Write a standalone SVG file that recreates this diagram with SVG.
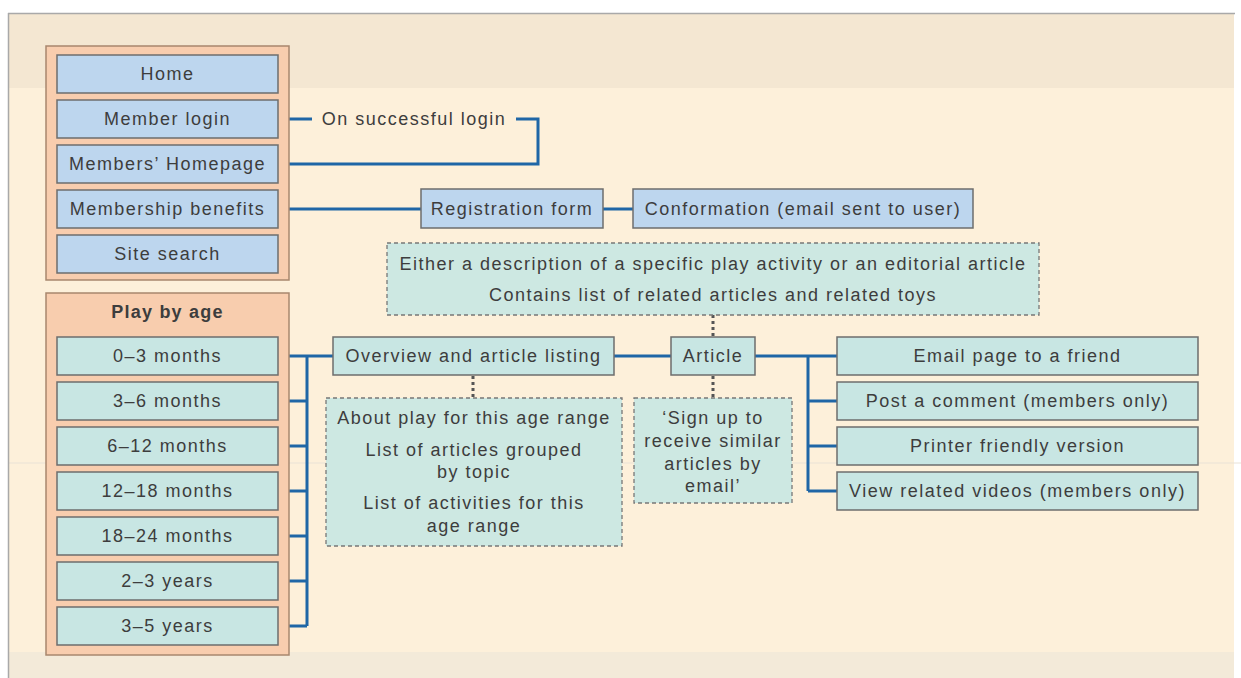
<svg xmlns="http://www.w3.org/2000/svg" width="1241" height="678" viewBox="0 0 1241 678">
  <style>
    text { font-family: "Liberation Sans", Arial, Helvetica, sans-serif; font-size: 18px; fill: #3d3d3d; letter-spacing: 1.5px; text-anchor: middle; dominant-baseline: central; }
    .bold { font-weight: bold; letter-spacing: 1.2px; font-size: 18px; }
    .group { fill: #f8cdae; stroke: #a8876e; stroke-width: 1.5; }
    .blue { fill: #bdd6ee; stroke: #6d6d6d; stroke-width: 1.5; }
    .teal { fill: #c8e6e3; stroke: #6d6d6d; stroke-width: 1.5; }
    .note { fill: #cde8e2; stroke: #777; stroke-width: 1.3; stroke-dasharray: 4 3; }
    .link { fill: none; stroke: #1f66a6; stroke-width: 3; }
    .dots { fill: none; stroke: #555; stroke-width: 3; stroke-dasharray: 3 3; }
  </style>

  <!-- page -->
  <rect x="0" y="0" width="1241" height="678" fill="#ffffff"/>
  <rect x="8" y="13" width="1226" height="665" fill="#fdf0da"/>
  <rect x="8" y="14" width="1226" height="74" fill="#f4e7d2"/>
  <rect x="8" y="652" width="1226" height="26" fill="#f3ead9"/>
  <line x1="8" y1="463" x2="1241" y2="463" stroke="#e9e2d6" stroke-width="1"/>
  <line x1="8" y1="13.5" x2="1235" y2="13.5" stroke="#a9a9a9" stroke-width="1.5"/>
  <line x1="8.5" y1="13" x2="8.5" y2="678" stroke="#a9a9a9" stroke-width="1.5"/>

  <!-- connectors -->
  <g id="connectors">
    <path class="link" d="M278 119 H312 M516 119 H538 V164 H278"/>
    <path class="link" d="M278 209 H421 M603 209 H633"/>
    <path class="link" d="M278 356 H333 M278 401 H307 M278 446 H307 M278 491 H307 M278 536 H307 M278 581 H307 M278 626 H307 M307 356 V626"/>
    <path class="link" d="M614 356 H671 M755 356 H837 M808 356 V491 M808 401 H837 M808 446 H837 M808 491 H837"/>
    <path class="dots" d="M473 376 V398 M713 315 V337 M713 376 V398"/>
  </g>

  <!-- site-wide pages -->
  <g id="main-menu">
    <rect class="group" x="46" y="46" width="243" height="234"/>
  </g>
  <g id="home"><rect class="blue" x="57" y="55" width="221" height="38"/><text x="167.5" y="74">Home</text></g>
  <g id="member-login"><rect class="blue" x="57" y="100" width="221" height="38"/><text x="167.5" y="119">Member login</text></g>
  <g id="members-homepage"><rect class="blue" x="57" y="145" width="221" height="38"/><text x="167.5" y="164">Members’ Homepage</text></g>
  <g id="membership-benefits"><rect class="blue" x="57" y="190" width="221" height="38"/><text x="167.5" y="209">Membership benefits</text></g>
  <g id="site-search"><rect class="blue" x="57" y="235" width="221" height="38"/><text x="167.5" y="254">Site search</text></g>

  <g id="login-label"><text x="414" y="119">On successful login</text></g>

  <g id="registration-form"><rect class="blue" x="421" y="189" width="182" height="39"/><text x="512" y="208.5">Registration form</text></g>
  <g id="conformation"><rect class="blue" x="633" y="189" width="340" height="39"/><text x="803" y="208.5">Conformation (email sent to user)</text></g>

  <g id="article-note">
    <rect class="note" x="387" y="243" width="652" height="72"/>
    <text x="713" y="264">Either a description of a specific play activity or an editorial article</text>
    <text x="713" y="295">Contains list of related articles and related toys</text>
  </g>

  <!-- play by age -->
  <g id="play-by-age">
    <rect class="group" x="46" y="293" width="243" height="362"/>
    <text class="bold" x="167.5" y="312">Play by age</text>
  </g>
  <g id="age-0-3m"><rect class="teal" x="57" y="337" width="221" height="38"/><text x="167.5" y="356">0–3 months</text></g>
  <g id="age-3-6m"><rect class="teal" x="57" y="382" width="221" height="38"/><text x="167.5" y="401">3–6 months</text></g>
  <g id="age-6-12m"><rect class="teal" x="57" y="427" width="221" height="38"/><text x="167.5" y="446">6–12 months</text></g>
  <g id="age-12-18m"><rect class="teal" x="57" y="472" width="221" height="38"/><text x="167.5" y="491">12–18 months</text></g>
  <g id="age-18-24m"><rect class="teal" x="57" y="517" width="221" height="38"/><text x="167.5" y="536">18–24 months</text></g>
  <g id="age-2-3y"><rect class="teal" x="57" y="562" width="221" height="38"/><text x="167.5" y="581">2–3 years</text></g>
  <g id="age-3-5y"><rect class="teal" x="57" y="607" width="221" height="38"/><text x="167.5" y="626">3–5 years</text></g>

  <g id="overview"><rect class="teal" x="333" y="337" width="281" height="38"/><text x="473.5" y="356">Overview and article listing</text></g>
  <g id="overview-note">
    <rect class="note" x="326" y="398" width="296" height="148"/>
    <text x="474" y="418">About play for this age range</text>
    <text x="474" y="450">List of articles grouped</text>
    <text x="474" y="472">by topic</text>
    <text x="474" y="503">List of activities for this</text>
    <text x="474" y="526">age range</text>
  </g>

  <g id="article"><rect class="teal" x="671" y="337" width="84" height="38"/><text x="713" y="356">Article</text></g>
  <g id="signup-note">
    <rect class="note" x="634" y="398" width="158" height="105"/>
    <text x="713" y="418">‘Sign up to</text>
    <text x="713" y="441">receive similar</text>
    <text x="713" y="464">articles by</text>
    <text x="713" y="486">email’</text>
  </g>

  <g id="email-friend"><rect class="teal" x="837" y="337" width="361" height="38"/><text x="1017.5" y="356">Email page to a friend</text></g>
  <g id="post-comment"><rect class="teal" x="837" y="382" width="361" height="38"/><text x="1017.5" y="401">Post a comment (members only)</text></g>
  <g id="printer-friendly"><rect class="teal" x="837" y="427" width="361" height="38"/><text x="1017.5" y="446">Printer friendly version</text></g>
  <g id="related-videos"><rect class="teal" x="837" y="472" width="361" height="38"/><text x="1017.5" y="491">View related videos (members only)</text></g>
</svg>
